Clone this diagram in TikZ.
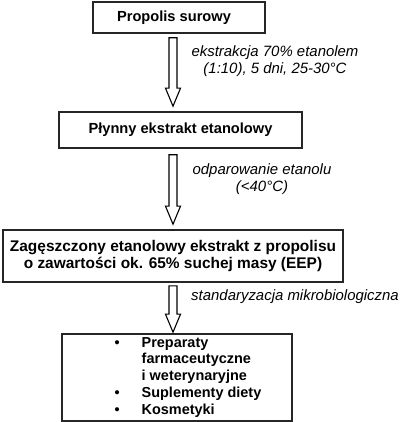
\documentclass[tikz,border=0pt]{standalone}
\usepackage{fontspec}
\setmainfont{Liberation Sans}
\usetikzlibrary{calc}
% hollow block arrow from the bottom of node #1 to the top of node #2
\newcommand\flowarrow[4]{%
  \draw[arr] let \p1=($(#1.south -| ax)+(0,-#3)$), \p2=($(#2.north -| ax)+(0,#4)$) in
    (\x1-4bp,\y1) -- (\x1-4bp,\y2+18bp) -- (\x1-7.5bp,\y2+18bp) -- (\x1,\y2)
    -- (\x1+7.5bp,\y2+18bp) -- (\x1+4bp,\y2+18bp) -- (\x1+4bp,\y1) -- cycle;}
\begin{document}
\begin{tikzpicture}[x=1bp,y=1bp,
  box/.style={draw=black!85, line width=1.6bp, font=\fontsize{14.7}{17.5}\selectfont\bfseries, align=center, inner sep=0pt},
  lbl/.style={font=\fontsize{15}{17.5}\selectfont\itshape, align=center, inner sep=0pt},
  arr/.style={draw=black, line width=1.1bp, fill=white, line join=miter}]
\useasboundingbox (0,0) rectangle (400,422);
\coordinate (ax) at (173,0);
\node[box, minimum width=172bp, minimum height=31bp] (b1) at (179,404.5) {\hspace*{-10bp}Propolis surowy};
\node[box, minimum width=243bp, minimum height=36bp] (b2) at (180.5,292) {Płynny ekstrakt etanolowy};
\node[box, minimum width=340bp, minimum height=52bp, font=\fontsize{15.5}{18}\selectfont\bfseries] (b3) at (173,166) {Zagęszczony etanolowy ekstrakt z propolisu\\o zawartości ok. 65\% suchej masy (EEP)};
\node[box, minimum width=230bp, minimum height=87bp, font=\fontsize{14.5}{17}\selectfont\bfseries] (b4) at (177,44.5) {\hspace*{22bp}\begin{tabular}{@{}c@{\hspace{22bp}}l@{}}
\textbullet & Preparaty\\
 & farmaceutyczne\\
 & i weterynaryjne\\
\textbullet & Suplementy diety\\
\textbullet & Kosmetyki
\end{tabular}};
\flowarrow{b1}{b2}{4bp}{5bp}
\flowarrow{b2}{b3}{6bp}{5bp}
\flowarrow{b3}{b4}{3bp}{1bp}
\node[lbl] (l1) at (275,361) {ekstrakcja 70\% etanolem\\(1:10), 5 dni, 25-30°C};
\node[lbl] (l2) at (262,243) {odparowanie etanolu\\(<40°C)};
\node[lbl, anchor=west] (l3) at (191,125) {standaryzacja mikrobiologiczna};
\end{tikzpicture}
\end{document}
